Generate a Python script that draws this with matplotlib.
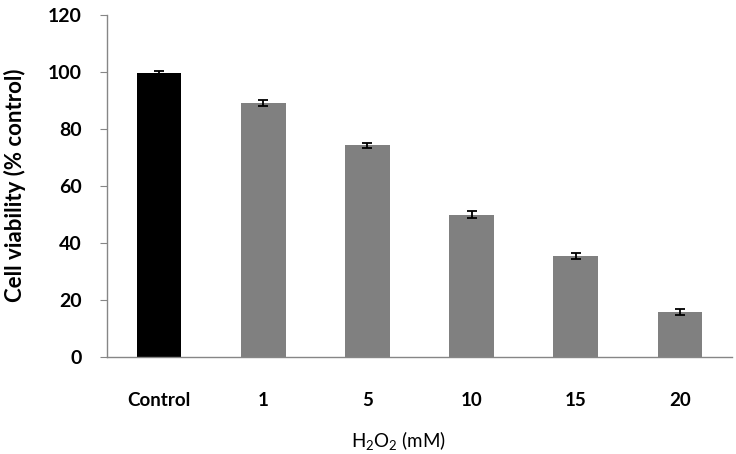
import matplotlib
matplotlib.use("Agg")
import matplotlib.pyplot as plt

categories = ["Control", "1", "5", "10", "15", "20"]
viability = [99.7, 89.0, 74.3, 50.0, 35.4, 15.9]
errors = [0.8, 1.1, 0.9, 1.1, 1.1, 1.1]
bar_colors = ["#000000", "#808080", "#808080", "#808080", "#808080", "#808080"]
yticks = [0, 20, 40, 60, 80, 100, 120]

plt.rcParams['font.family'] = ['Lato', 'DejaVu Sans']
plt.rcParams['mathtext.default'] = 'regular'

fig = plt.figure(figsize=(7.36, 4.54), dpi=100)
ax = fig.add_axes([107/736, 1-357/454, (732-107)/736, (357-15)/454])

x = list(range(len(categories)))
ax.bar(x, viability, width=0.43, color=bar_colors, zorder=2)
ax.errorbar(x, viability, yerr=errors, fmt='none', ecolor='black',
            elinewidth=1.3, capsize=3.6, capthick=1.3, zorder=3)

ax.set_xlim(-0.5, 5.5)
ax.set_ylim(0, 120)
ax.set_yticks(yticks)
ax.set_yticklabels([str(t) for t in yticks], fontsize=14, fontweight='bold')
ax.set_xticks(x)
ax.set_xticklabels(categories, fontsize=13.5, fontweight='bold')

for s in ['top', 'right']:
    ax.spines[s].set_visible(False)
for s in ['left', 'bottom']:
    ax.spines[s].set_color('#868686')
    ax.spines[s].set_linewidth(1.0)

ax.tick_params(axis='y', direction='out', length=5, color='#868686', pad=13)
ax.tick_params(axis='x', length=0, pad=25)

fig.text(15/736, 1-185/454, "Cell viability (% control)", rotation=90,
         ha='center', va='center', fontsize=16, fontweight='bold')
fig.text(398/736, 1-441/454, "H$_2$O$_2$ (mM)", ha='center', va='center', fontsize=13.5)

fig.savefig("out.png", dpi=100)
